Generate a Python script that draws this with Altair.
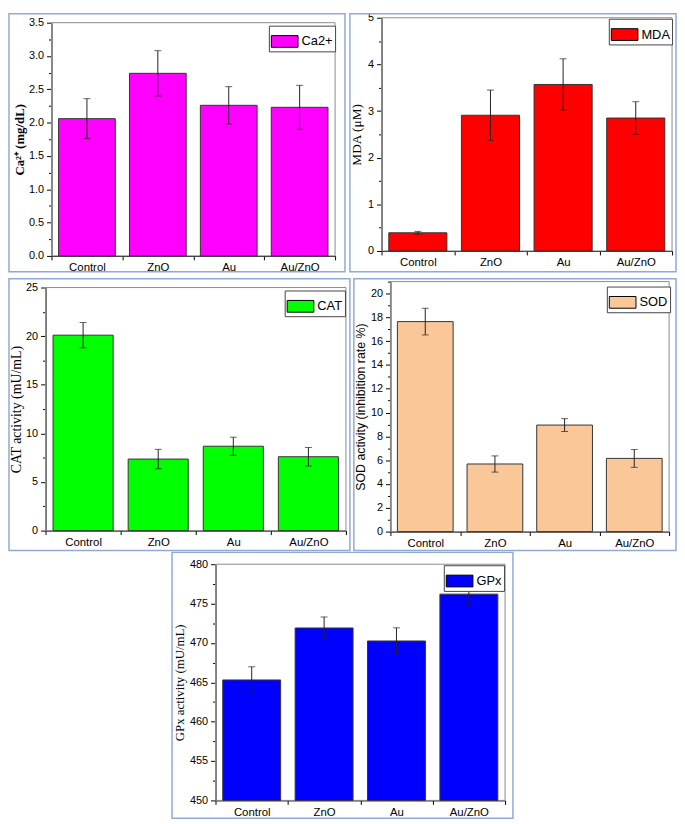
import altair as alt
import pandas as pd

groups = ["Control", "ZnO", "Au", "Au/ZnO"]

ca_mean = [2.06, 2.74, 2.26, 2.23]
ca_err = [0.30, 0.34, 0.28, 0.33]

mda_mean = [0.39, 2.91, 3.57, 2.85]
mda_err = [0.03, 0.54, 0.55, 0.35]

cat_mean = [20.1, 7.36, 8.68, 7.60]
cat_err = [1.30, 1.00, 0.93, 0.95]

sod_mean = [17.64, 5.68, 8.95, 6.15]
sod_err = [1.12, 0.68, 0.54, 0.75]

gpx_mean = [465.3, 471.9, 470.25, 476.2]
gpx_err = [1.67, 1.40, 1.67, 1.50]

W, H = 677, 816
BORDER = "#8FAAD3"
FRAME = "#8a8a8a"
SANS = "Liberation Sans"
SERIF = "Liberation Serif"
RECT_PATH = "M-1,-0.44L1,-0.44L1,0.44L-1,0.44Z"


def panel(key, name, means, errs, color, ymin, ymax, major, minor, fmt,
          title, tfont, tweight, tsize, tpad,
          plot, border, legend_xy):
    pl, pr, pt, pb = plot
    bl, br, bt, bb = border
    sfield = f"series_{key}"
    df = pd.DataFrame({
        "group": groups,
        "value": means,
        "lo": [m - e for m, e in zip(means, errs)],
        "hi": [m + e for m, e in zip(means, errs)],
        sfield: [name] * len(groups),
        "base": [ymin] * len(groups),
    })
    n = int(round((ymax - ymin) / minor))
    ticks = [round(ymin + i * minor, 6) for i in range(n + 1)]
    is_major = (f"abs((datum.value - {ymin})/{major} - "
                f"round((datum.value - {ymin})/{major})) < 1e-6")
    yscale = alt.Scale(domain=[ymin, ymax], range=[pb, pt], nice=False, zero=False)
    yaxis = alt.Axis(
        orient="left", offset=-pl,
        values=ticks,
        labelExpr=f"{is_major} ? format(datum.value, '{fmt}') : ''",
        tickSize={"condition": {"test": is_major, "value": 5}, "value": 3},
        labelOverlap=False, labelPadding=3, labelFontSize=11,
        title=title, titleFont=tfont, titleFontWeight=tweight,
        titleFontSize=tsize, titlePadding=tpad, grid=False,
    )
    xscale = alt.Scale(domain=groups, range=[pl, pr], paddingInner=0, paddingOuter=0)
    xaxis = alt.Axis(
        orient="bottom", offset=-(H - pb),
        title=None, labelAngle=0, tickBand="extent", tickSize=4,
        labelPadding=2, labelFontSize=11.5, grid=False,
    )
    x = alt.X("group:N", sort=groups, scale=xscale, axis=xaxis)

    one = pd.DataFrame({"k": [0]})
    box = alt.Chart(one).mark_rect(
        fillOpacity=0, stroke=BORDER, strokeWidth=1.5
    ).encode(x=alt.value(bl), x2=alt.value(br), y=alt.value(bt), y2=alt.value(bb))
    frame = alt.Chart(one).mark_rect(
        fillOpacity=0, stroke=FRAME, strokeWidth=1
    ).encode(x=alt.value(pl), x2=alt.value(pr), y=alt.value(pt), y2=alt.value(pb))

    bars = alt.Chart(df).mark_bar(
        stroke="#333333", strokeWidth=1, width=alt.RelativeBandSize(0.8)
    ).encode(
        x=x,
        y=alt.Y("value:Q", scale=yscale, axis=yaxis),
        y2=alt.Y2("base:Q"),
        color=alt.Color(
            f"{sfield}:N",
            scale=alt.Scale(domain=[name], range=[color]),
            legend=alt.Legend(
                orient="none", legendX=legend_xy[0], legendY=legend_xy[1],
                title=None, padding=2,
                symbolType=RECT_PATH, symbolSize=729,
                symbolStrokeColor="black", symbolStrokeWidth=1,
                symbolOpacity=1, labelFont=SANS, labelFontSize=13,
                labelColor="black", labelOffset=3,
                strokeColor="#444444", fillColor="white",
            ),
        ),
    )
    rules = alt.Chart(df).mark_rule(color="#222222", strokeWidth=1).encode(
        x=x, y=alt.Y("lo:Q", scale=yscale, axis=yaxis), y2=alt.Y2("hi:Q"),
    )
    cap_hi = alt.Chart(df).mark_tick(color="#222222", size=7, thickness=1).encode(
        x=x, y=alt.Y("hi:Q", scale=yscale, axis=yaxis)
    )
    cap_lo = alt.Chart(df).mark_tick(color="#222222", size=7, thickness=1).encode(
        x=x, y=alt.Y("lo:Q", scale=yscale, axis=yaxis)
    )
    return alt.layer(box, frame, bars, rules, cap_hi, cap_lo)


p1 = panel("ca", "Ca2+", ca_mean, ca_err, "#FF00FF", 0, 3.5, 0.5, 0.25, ".1f",
           "Ca²⁺ (mg/dL)", SERIF, "bold", 13, 2,
           (44, 331, 10, 246), (1, 341, 1, 262), (264, 13))
p2 = panel("mda", "MDA", mda_mean, mda_err, "#FF0000", 0, 5, 1, 0.5, "d",
           "MDA (μM)", SERIF, "normal", 13.5, 4,
           (378, 672, 5, 241), (346, 676, 1, 262), (608, 6))
p3 = panel("cat", "CAT", cat_mean, cat_err, "#00FF00", 0, 25, 5, 2.5, "d",
           "CAT activity (mU/mL)", SERIF, "normal", 14, 2,
           (38, 342, 278, 524), (1, 346, 269, 544), (280, 281))
p4 = panel("sod", "SOD", sod_mean, sod_err, "#FAC898", 0, 21, 2, 1, "d",
           "SOD activity (inhibition rate %)", SANS, "normal", 12.5, 3,
           (387, 669, 272, 525), (350, 676, 269, 544), (606, 277))
p5 = panel("gpx", "GPx", gpx_mean, gpx_err, "#0000FF", 450, 480, 5, 2.5, "d",
           "GPx activity (mU/mL)", SERIF, "normal", 13, 3,
           (210, 503, 558, 797), (166, 511, 546, 815), (441, 559))

chart = alt.layer(p1, p2, p3, p4, p5).resolve_scale(
    x="independent", y="independent", color="independent"
).resolve_axis(
    x="independent", y="independent"
).resolve_legend(
    color="independent"
).properties(
    width=W, height=H, padding=0, background="white",
    autosize=alt.AutoSizeParams(type="none"),
).configure_view(
    stroke="transparent"
).configure_axis(
    domainColor="black", tickColor="black", labelColor="black",
    titleColor="black", labelFont=SANS, domainWidth=1, tickWidth=1,
)

chart.save("out.html", embed_options={"renderer": "svg", "actions": False})
